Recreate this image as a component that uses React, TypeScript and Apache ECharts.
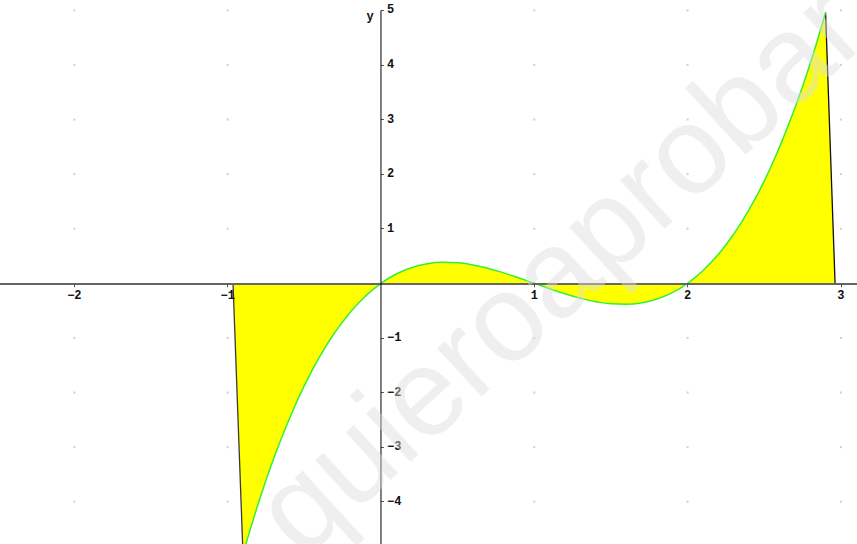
import React, { useEffect, useRef } from "react";
import * as echarts from "echarts";

const W = 857;
const H = 544;

// Axis extents
const X_MIN = -2.485;
const X_MAX = 3.105;
const Y_MIN = -4.775;
const Y_MAX = 5.19;
const Y_AXIS_TOP = 5;

// Tick labels
const xTicks = [-2, -1, 1, 2, 3];
const yTicks = [-4, -3, -2, -1, 1, 2, 3, 4, 5];

// Grid dots (integer lattice)
const gridX = [-2, -1, 1, 2, 3];
const gridY = [-4, -3, -2, -1, 1, 2, 3, 4, 5];

// Curve samples
const curveX = [
  -0.9, -0.8, -0.7, -0.6, -0.5, -0.4, -0.3, -0.2, -0.1, 0,
  0.1, 0.2, 0.3, 0.4, 0.5, 0.6, 0.7, 0.8, 0.9, 1,
  1.1, 1.2, 1.3, 1.4, 1.5, 1.6, 1.7, 1.8, 1.9, 2,
  2.1, 2.2, 2.3, 2.4, 2.5, 2.6, 2.7, 2.8, 2.9,
];
const curveY = [
  -4.96, -4.03, -3.21, -2.5, -1.875, -1.344, -0.897, -0.528, -0.231, 0,
  0.171, 0.288, 0.357, 0.384, 0.375, 0.336, 0.273, 0.192, 0.099, 0,
  -0.099, -0.192, -0.273, -0.336, -0.375, -0.384, -0.357, -0.288, -0.171, 0,
  0.231, 0.528, 0.897, 1.344, 1.875, 2.5, 3.21, 4.03, 4.96,
];

// Where the shaded region meets the x axis
const fillStartX = -0.965;
const fillEndX = 2.962;

const watermarkText = "quieroaprobar";

const minus = (v: number) => String(v).replace("-", "\u2212");

export default function App() {
  const ref = useRef<HTMLDivElement>(null);

  useEffect(() => {
    if (!ref.current) return;
    const chart = echarts.init(ref.current, undefined, { renderer: "svg" });

    const curve = curveX.map((x, i) => [x, curveY[i]]);
    const first = curve[0];
    const last = curve[curve.length - 1];
    const fillPoly = [[fillStartX, 0], ...curve, [fillEndX, 0]];
    const dots: number[][] = [];
    gridX.forEach((x) => gridY.forEach((y) => dots.push([x, y])));

    // place axes through the origin
    const zeroYpx = (H * Y_MAX) / (Y_MAX - Y_MIN);
    const zeroXpx = (W * (0 - X_MIN)) / (X_MAX - X_MIN);

    const labelFont = {
      fontFamily: "Liberation Mono",
      fontWeight: "bold" as const,
      fontSize: 12,
      color: "#111",
    };

    chart.setOption({
      animation: false,
      backgroundColor: "#ffffff",
      grid: { left: 0, right: 0, top: 0, bottom: 0, containLabel: false, outerBoundsMode: "none" },
      xAxis: {
        type: "value",
        min: X_MIN,
        max: X_MAX,
        position: "bottom",
        offset: -(H - zeroYpx),
        z: 5,
        axisLine: { show: true, onZero: false, lineStyle: { color: "#666", width: 2 } },
        axisTick: {
          show: true,
          customValues: xTicks,
          length: 4,
          lineStyle: { color: "#555", width: 1 },
        },
        axisLabel: {
          show: true,
          customValues: xTicks,
          margin: 7,
          formatter: (v: number) => minus(v),
          ...labelFont,
        },
        splitLine: { show: false },
      },
      yAxis: {
        type: "value",
        min: Y_MIN,
        max: Y_MAX,
        position: "left",
        offset: -zeroXpx,
        z: 5,
        axisLine: { show: false, onZero: false },
        axisTick: {
          show: true,
          customValues: yTicks,
          length: 3,
          inside: true,
          lineStyle: { color: "#555", width: 1 },
        },
        axisLabel: {
          show: true,
          inside: true,
          customValues: yTicks,
          margin: 6,
          formatter: (v: number) => minus(v),
          ...labelFont,
        },
        splitLine: { show: false },
      },
      graphic: [
        {
          type: "text",
          x: 370,
          y: 17,
          z: 10,
          style: {
            text: "y",
            font: 'bold 12px "Liberation Mono"',
            fill: "#111",
            textAlign: "center",
            textVerticalAlign: "middle",
          },
        },
        {
          type: "text",
          x: 558,
          y: 268,
          rotation: (42.5 * Math.PI) / 180,
          z: 100,
          silent: true,
          style: {
            text: watermarkText,
            font: '124px "Liberation Sans"',
            fill: "rgba(220,220,220,0.45)",
            textAlign: "center",
            textVerticalAlign: "middle",
          },
        },
      ],
      series: [
        {
          type: "scatter",
          data: dots,
          symbol: "rect",
          symbolSize: 2,
          itemStyle: { color: "#c4c4c4" },
          silent: true,
          z: 1,
        },
        {
          type: "line",
          data: fillPoly,
          symbol: "none",
          lineStyle: { width: 0, opacity: 0 },
          areaStyle: { color: "#ffff00", opacity: 1, origin: 0 },
          silent: true,
          z: 2,
        },
        {
          type: "line",
          data: [[fillStartX, 0], first],
          symbol: "none",
          lineStyle: { color: "#3a3a3a", width: 1.3 },
          silent: true,
          z: 3,
        },
        {
          type: "line",
          data: [last, [fillEndX, 0]],
          symbol: "none",
          lineStyle: { color: "#111", width: 1.3 },
          silent: true,
          z: 3,
        },
        {
          type: "line",
          data: curve,
          symbol: "none",
          smooth: true,
          lineStyle: { color: "#33f033", width: 1.5 },
          silent: true,
          z: 4,
        },
        {
          type: "line",
          data: [[0, Y_MIN], [0, Y_AXIS_TOP]],
          symbol: "none",
          lineStyle: { color: "#000", width: 1 },
          silent: true,
          z: 6,
        },
      ],
    });

    return () => chart.dispose();
  }, []);

  return (
    <div
      ref={ref}
      style={{ position: "fixed", left: 0, top: 0, width: W, height: H }}
    />
  );
}
